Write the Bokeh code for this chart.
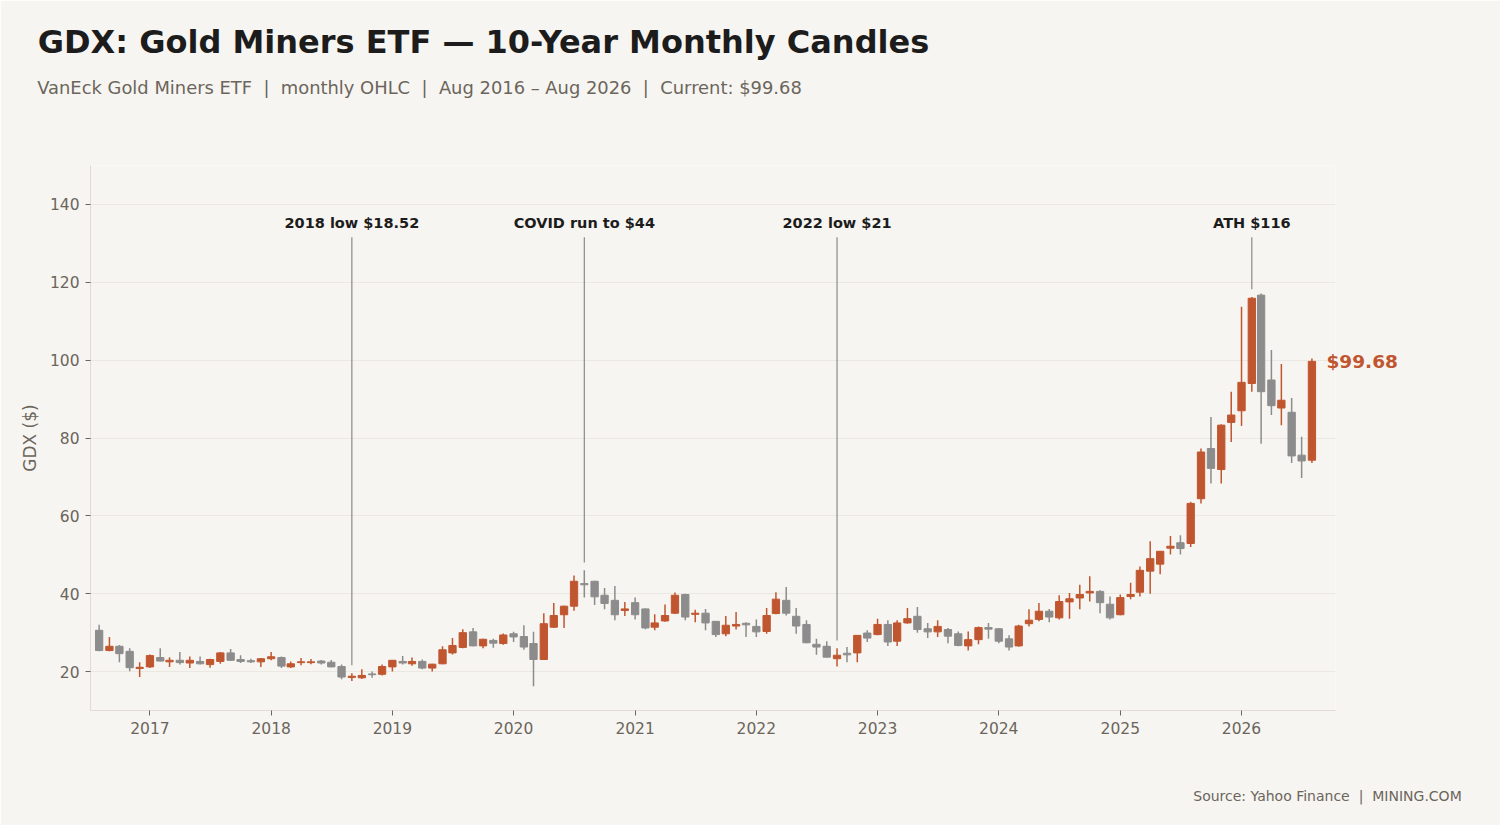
import pandas as pd
from bokeh.plotting import figure
from bokeh.models import (ColumnDataSource, Range1d, FixedTicker, DatetimeTickFormatter,
                          LinearAxis, CustomJSTickFormatter)
from bokeh.core.properties import value
from bokeh.embed import file_html
from bokeh.resources import INLINE

# ---------------- data ----------------
months = pd.date_range("2016-08-01", "2026-08-01", freq="MS")

opens = [30.6, 25.4, 26.5, 25.2, 20.8, 21.2, 23.6, 22.5, 22.9, 22.2, 22.6, 21.8,
         22.6, 24.8, 23.1, 22.8, 22.5, 23.3, 23.6, 21.2, 22.3, 22.3, 22.7, 22.4,
         21.3, 18.5, 18.4, 19.4, 19.3, 21.2, 22.6, 22.0, 22.6, 20.9, 22.0, 24.8,
         26.2, 30.2, 26.6, 28.0, 27.2, 29.7, 29.0, 27.2, 23.1, 31.4, 34.6, 36.8,
         42.6, 43.2, 39.6, 38.3, 35.7, 37.7, 36.1, 31.4, 33.0, 35.0, 39.8, 34.7,
         35.0, 32.9, 29.7, 31.7, 32.4, 31.6, 30.3, 34.9, 38.3, 34.2, 32.1, 27.0,
         26.5, 23.3, 24.7, 24.8, 29.9, 29.5, 32.1, 27.8, 32.5, 34.2, 31.0, 30.2,
         30.8, 29.7, 26.6, 28.2, 31.3, 31.0, 28.4, 26.6, 32.3, 33.4, 35.5, 33.8,
         37.9, 38.9, 40.2, 40.6, 37.3, 34.6, 39.3, 40.4, 45.8, 47.6, 51.7, 53.1,
         52.9, 64.4, 77.3, 71.9, 84.0, 87.0, 94.0, 116.7, 94.9, 87.7, 86.6, 75.6,
         74.3]
highs = [32.0, 28.9, 26.8, 26.0, 22.4, 24.4, 26.0, 23.7, 25.0, 23.9, 23.9, 23.3,
         25.0, 25.8, 24.2, 23.3, 23.5, 25.0, 23.9, 22.6, 23.5, 23.2, 23.0, 23.0,
         21.8, 19.6, 20.6, 20.0, 21.8, 23.0, 24.0, 23.6, 23.1, 22.0, 26.5, 28.6,
         30.9, 31.2, 28.4, 28.4, 29.8, 30.2, 31.9, 30.2, 35.0, 37.6, 36.9, 44.7,
         46.0, 43.3, 41.5, 42.0, 37.9, 39.0, 36.2, 34.7, 37.2, 40.3, 40.0, 35.9,
         36.1, 33.0, 34.3, 35.3, 32.7, 33.4, 36.3, 40.4, 41.7, 36.3, 33.2, 28.4,
         27.8, 26.0, 26.3, 29.4, 30.6, 33.6, 33.2, 33.2, 36.3, 36.6, 32.5, 33.2,
         31.2, 30.3, 30.3, 31.6, 32.5, 31.1, 29.3, 32.0, 36.0, 37.6, 36.1, 39.6,
         40.2, 42.3, 44.5, 40.9, 39.3, 39.8, 42.8, 47.0, 53.5, 51.0, 54.8, 55.0,
         63.6, 77.3, 85.4, 83.5, 91.9, 113.7, 116.2, 117.1, 102.6, 99.0, 90.3, 80.3,
         100.4]
lows = [25.2, 25.2, 22.4, 20.1, 18.6, 20.9, 22.6, 21.2, 21.8, 20.9, 21.8, 21.0,
        22.0, 22.8, 22.2, 22.2, 21.2, 22.9, 20.9, 20.9, 21.6, 21.9, 21.8, 21.1,
        18.0, 17.6, 18.1, 18.4, 19.0, 20.0, 21.8, 21.5, 20.6, 20.0, 21.9, 24.4,
        26.0, 26.5, 26.0, 26.1, 26.9, 27.6, 25.6, 16.2, 23.0, 31.2, 31.2, 35.6,
        39.0, 37.1, 36.0, 33.2, 34.3, 33.4, 30.9, 30.6, 32.8, 34.8, 33.2, 32.7,
        30.6, 28.9, 29.1, 30.8, 28.9, 28.9, 29.7, 34.7, 34.4, 29.7, 27.3, 24.3,
        23.6, 21.3, 22.4, 22.4, 27.6, 29.3, 26.6, 26.6, 32.3, 30.0, 28.6, 28.9,
        27.3, 26.5, 25.4, 27.0, 28.4, 27.3, 25.4, 26.4, 31.6, 32.9, 32.7, 33.4,
        33.6, 36.0, 38.0, 35.0, 33.4, 34.5, 38.6, 39.3, 40.0, 45.0, 50.1, 50.1,
        52.0, 63.2, 68.3, 68.3, 79.0, 83.1, 91.9, 78.5, 85.9, 83.3, 73.6, 69.7,
        73.6]
closes = [25.4, 26.5, 24.6, 21.0, 21.1, 24.1, 22.7, 22.9, 22.3, 22.9, 22.0, 23.1,
          24.8, 22.9, 22.6, 22.5, 23.3, 23.8, 21.4, 22.0, 22.5, 22.5, 22.2, 21.2,
          18.6, 18.8, 19.0, 19.2, 21.3, 22.9, 22.2, 22.6, 20.9, 21.9, 25.6, 26.7,
          30.0, 26.6, 28.3, 27.3, 29.4, 28.9, 26.3, 23.1, 32.3, 34.4, 36.8, 43.2,
          42.3, 39.2, 37.5, 34.6, 36.1, 34.6, 31.2, 32.5, 34.4, 39.6, 34.0, 35.0,
          32.5, 29.5, 31.9, 32.1, 32.0, 30.2, 34.4, 38.6, 35.0, 31.7, 27.4, 26.3,
          23.7, 24.2, 24.3, 29.3, 28.6, 32.1, 27.6, 32.5, 33.6, 30.8, 30.2, 31.6,
          29.1, 26.7, 28.2, 31.3, 30.9, 27.8, 26.3, 31.7, 33.2, 35.5, 34.0, 38.0,
          38.7, 39.8, 40.6, 37.7, 33.8, 39.0, 39.8, 46.0, 49.0, 50.9, 52.2, 51.6,
          63.2, 76.4, 72.2, 83.3, 85.9, 94.3, 115.9, 91.9, 88.3, 89.7, 75.4, 74.1,
          99.68]

ann_dates = ["2018-09-01", "2020-08-01", "2022-09-01", "2026-02-01"]
ann_labels = ["2018 low $18.52", "COVID run to $44", "2022 low $21", "ATH $116"]

year_ticks = [str(y) + "-01-01" for y in range(2017, 2027)]
price_ticks = [20, 40, 60, 80, 100, 120, 140]

NB = "\u00a0"  # keeps the doubled spaces around the separators
SEP = " " + NB + "|" + NB + " "
title_text = "GDX: Gold Miners ETF — 10-Year Monthly Candles"
subtitle_text = SEP.join(["VanEck Gold Miners ETF", "monthly OHLC",
                          "Aug 2016 – Aug 2026", "Current: $99.68"])
source_text = SEP.join(["Source: Yahoo Finance", "MINING.COM"])

# ---------------- styling ----------------
UP = "#c0562f"
DOWN = "#8c8c8c"
BG = "#f7f5f1"
TXT = "#1c1c1c"
MUTED = "#6b655c"
FONT = "DejaVu Sans"

FRAME_L, FRAME_R, FRAME_T, FRAME_B = 90, 1335, 165, 710
W, H = 1500, 825


def ms(d):
    return pd.Timestamp(d).value // 10**6


colors = [UP if c >= o else DOWN for o, c in zip(opens, closes)]
src = ColumnDataSource(dict(
    x=months, o=opens, h=highs, l=lows, c=closes,
    top=[max(o, c) for o, c in zip(opens, closes)],
    bot=[min(o, c) for o, c in zip(opens, closes)],
    color=colors,
))

p = figure(width=W, height=H, output_backend="svg", toolbar_location=None,
           title=None, x_axis_type="datetime",
           x_range=Range1d(ms("2016-07-06"), ms("2026-10-11")),
           y_range=Range1d(10, 150),
           min_border_left=FRAME_L, min_border_right=W - FRAME_R,
           min_border_top=FRAME_T, min_border_bottom=H - FRAME_B)
p.background_fill_color = BG
p.border_fill_color = BG
p.outline_line_color = None

p.segment(x0="x", y0="l", x1="x", y1="h", source=src, line_color="color", line_width=1.5)
p.vbar(x="x", width=22 * 86400000, top="top", bottom="bot", source=src,
       fill_color="color", line_color="color", line_width=1)

ann_idx = [list(months).index(pd.Timestamp(d)) for d in ann_dates]
ann_src = ColumnDataSource(dict(
    x=[pd.Timestamp(d) for d in ann_dates],
    y0=[131.6] * len(ann_dates),
    y1=[highs[i] + 2 for i in ann_idx],
    ty=[135.3] * len(ann_dates),
    text=ann_labels,
))
p.segment(x0="x", y0="y0", x1="x", y1="y1", source=ann_src, line_color="#8a8a82", line_width=1.2)
p.text(x="x", y="ty", text="text", source=ann_src, text_align="center",
       text_baseline="middle", text_font=value(FONT), text_font_size="14.5px",
       text_font_style="bold", text_color=TXT)

# main axes
p.xaxis.ticker = FixedTicker(ticks=[ms(d) for d in year_ticks])
p.xaxis.formatter = DatetimeTickFormatter(years="%Y", months="%Y", days="%Y",
                                          hours="%Y", minutes="%Y", seconds="%Y",
                                          milliseconds="%Y", microseconds="%Y")
p.yaxis.ticker = FixedTicker(ticks=price_ticks)
for ax in (p.xaxis, p.yaxis):
    ax.axis_line_color = "#e2dad6"
    ax.major_tick_line_color = MUTED
    ax.major_tick_out = 5
    ax.major_tick_in = 0
    ax.minor_tick_line_color = None
    ax.major_label_text_color = MUTED
    ax.major_label_text_font = FONT
    ax.major_label_text_font_size = "15.5px"
p.xaxis.major_label_standoff = 6
p.yaxis.major_label_standoff = 6
p.yaxis.axis_label = "GDX ($)"
p.yaxis.axis_label_text_font = FONT
p.yaxis.axis_label_text_font_size = "17px"
p.yaxis.axis_label_text_font_style = "normal"
p.yaxis.axis_label_text_color = MUTED
p.yaxis.axis_label_standoff = 7

p.xgrid.visible = False
p.ygrid.grid_line_color = "#ebe7e1"


def text_axis(text, tick, standoff, size, color, bold=False, range_name="default"):
    ax = LinearAxis(ticker=FixedTicker(ticks=[tick]),
                    formatter=CustomJSTickFormatter(args=dict(t=text), code="return t;"),
                    axis_line_color=None, major_tick_line_color=None,
                    minor_tick_line_color=None, major_tick_out=0, major_tick_in=0,
                    major_label_standoff=standoff,
                    major_label_text_color=color, major_label_text_font=FONT,
                    major_label_text_font_size=size,
                    major_label_text_font_style="bold" if bold else "normal")
    if range_name != "default":
        ax.x_range_name = range_name
    return ax


# last-price tag on the right
p.add_layout(text_axis("$" + f"{closes[-1]:.2f}", closes[-1], -9, "18.5px", UP, bold=True), "right")

# title, subtitle and source as label rows in the border (pixel range across the frame)
p.extra_x_ranges = {"px": Range1d(0, FRAME_R - FRAME_L)}
p.add_layout(text_axis(subtitle_text, 329, 68, "17.9px", MUTED, range_name="px"), "above")
p.add_layout(text_axis(title_text, 393, 13, "32px", TXT, bold=True, range_name="px"), "above")
p.add_layout(text_axis(source_text, 1237, 51, "14px", MUTED, range_name="px"), "below")

html = file_html(p, INLINE, title="GDX Monthly Candles")
html = html.replace("<body>", '<body style="background:%s">' % BG, 1)
open("out.html", "w").write(html)
